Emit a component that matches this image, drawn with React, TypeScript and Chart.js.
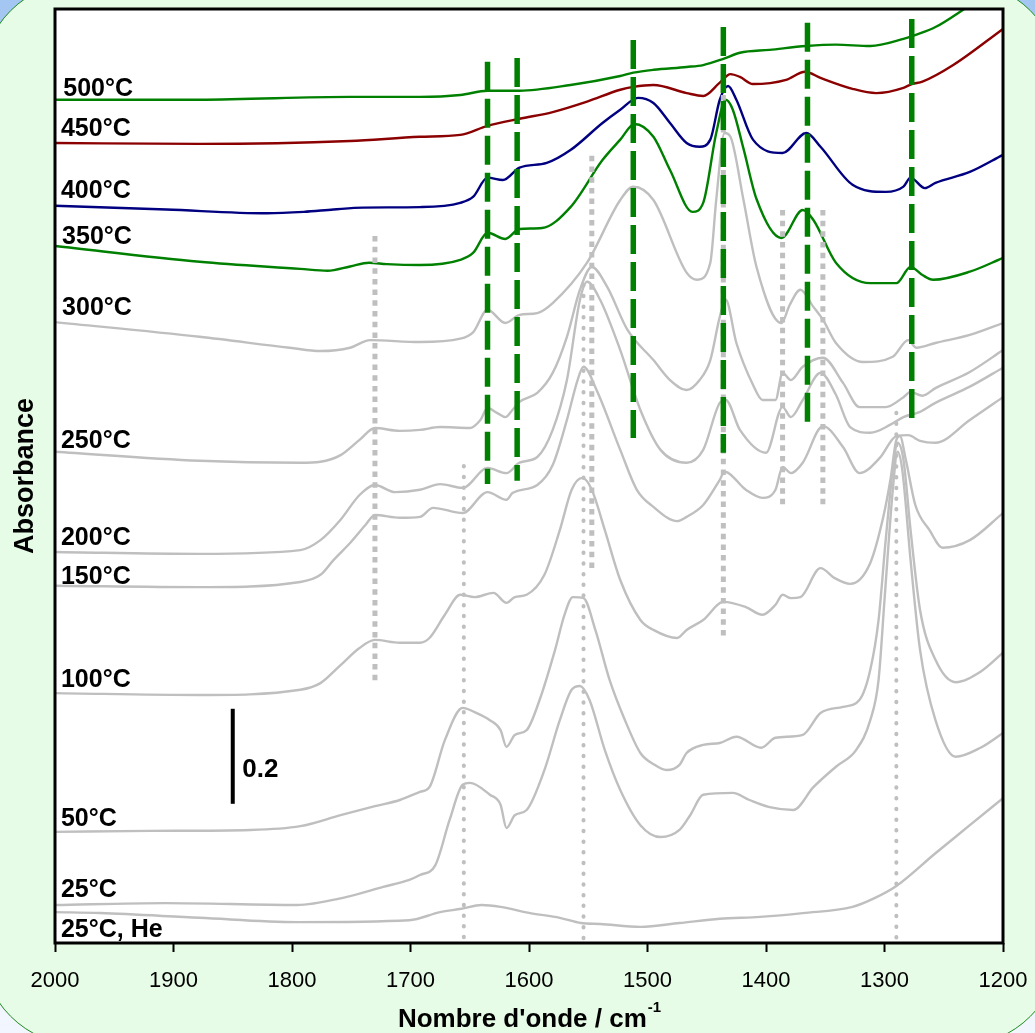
import React, { useEffect, useRef } from "react";
import { Chart, registerables } from "chart.js";

Chart.register(...registerables);

type Pt = [number, number];

// Spectra: [wavenumber (cm-1), absorbance (offset, a.u.)]
const c500: Pt[] = [
  [2000, 1.775], [1878, 1.775], [1751, 1.781], [1692, 1.781], [1658, 1.785], [1635, 1.794],
  [1608, 1.794], [1565, 1.806], [1523, 1.825], [1512, 1.832], [1495, 1.838], [1467, 1.844],
  [1453, 1.848], [1436, 1.861], [1422, 1.874], [1397, 1.88], [1366, 1.888], [1341, 1.891],
  [1312, 1.888], [1284, 1.903], [1273, 1.912], [1257, 1.928], [1234, 1.964], [1200, 2.023],
];
const c450: Pt[] = [
  [2000, 1.684], [1878, 1.682], [1751, 1.688], [1692, 1.697], [1658, 1.701], [1635, 1.72],
  [1608, 1.735], [1580, 1.749], [1551, 1.771], [1523, 1.796], [1512, 1.802], [1495, 1.806],
  [1467, 1.789], [1453, 1.783], [1439, 1.811], [1430, 1.829], [1422, 1.823], [1411, 1.808],
  [1383, 1.817], [1367, 1.834], [1354, 1.821], [1327, 1.798], [1307, 1.789], [1284, 1.8],
  [1277, 1.808], [1268, 1.813], [1242, 1.848], [1200, 1.924],
];
const c400: Pt[] = [
  [2000, 1.552], [1906, 1.544], [1821, 1.536], [1790, 1.539], [1765, 1.544], [1740, 1.548],
  [1692, 1.549], [1658, 1.558], [1647, 1.571], [1635, 1.611], [1622, 1.606], [1608, 1.632],
  [1585, 1.642], [1565, 1.669], [1538, 1.726], [1523, 1.754], [1508, 1.779], [1495, 1.768],
  [1481, 1.726], [1467, 1.684], [1456, 1.676], [1447, 1.691], [1439, 1.775], [1432, 1.804],
  [1425, 1.775], [1411, 1.691], [1386, 1.663], [1366, 1.705], [1354, 1.676], [1327, 1.596],
  [1299, 1.581], [1284, 1.592], [1278, 1.611], [1266, 1.589], [1257, 1.6], [1228, 1.623],
  [1200, 1.659],
];
const c350: Pt[] = [
  [2000, 1.467], [1878, 1.434], [1793, 1.419], [1770, 1.415], [1751, 1.424], [1735, 1.432],
  [1720, 1.429], [1692, 1.427], [1658, 1.438], [1647, 1.453], [1635, 1.495], [1620, 1.482],
  [1608, 1.503], [1589, 1.505], [1565, 1.549], [1538, 1.648], [1523, 1.691], [1511, 1.724],
  [1495, 1.697], [1481, 1.627], [1462, 1.539], [1453, 1.558], [1442, 1.705], [1434, 1.775],
  [1428, 1.754], [1419, 1.672], [1408, 1.566], [1387, 1.484], [1369, 1.543], [1360, 1.522],
  [1341, 1.432], [1312, 1.389], [1290, 1.389], [1278, 1.423], [1268, 1.406], [1259, 1.396],
  [1228, 1.413], [1200, 1.442],
];
const c300: Pt[] = [
  [2000, 1.307], [1878, 1.276], [1802, 1.253], [1776, 1.246], [1751, 1.253], [1734, 1.269],
  [1692, 1.265], [1658, 1.272], [1647, 1.286], [1635, 1.333], [1620, 1.305], [1608, 1.322],
  [1593, 1.326], [1580, 1.347], [1551, 1.432], [1523, 1.564], [1512, 1.592], [1495, 1.564],
  [1467, 1.411], [1458, 1.396], [1447, 1.432], [1442, 1.564], [1435, 1.705], [1430, 1.697],
  [1419, 1.564], [1408, 1.423], [1387, 1.305], [1380, 1.343], [1371, 1.375], [1360, 1.339],
  [1352, 1.312], [1341, 1.263], [1318, 1.223], [1293, 1.234], [1280, 1.269], [1273, 1.253],
  [1257, 1.263], [1228, 1.28], [1200, 1.305],
];
const c250: Pt[] = [
  [2000, 1.034], [1878, 1.015], [1793, 1.011], [1776, 1.013], [1759, 1.027], [1743, 1.059],
  [1730, 1.084], [1709, 1.078], [1692, 1.08], [1675, 1.086], [1650, 1.084], [1641, 1.101],
  [1635, 1.126], [1627, 1.116], [1620, 1.107], [1614, 1.122], [1608, 1.139], [1593, 1.158],
  [1580, 1.2], [1568, 1.276], [1557, 1.375], [1547, 1.423], [1534, 1.381], [1517, 1.291],
  [1495, 1.227], [1481, 1.185], [1467, 1.164], [1456, 1.185], [1447, 1.227], [1439, 1.318],
  [1434, 1.354], [1425, 1.263], [1411, 1.175], [1403, 1.143], [1392, 1.143], [1386, 1.2],
  [1379, 1.185], [1369, 1.213], [1352, 1.232], [1335, 1.179], [1321, 1.128], [1299, 1.128],
  [1284, 1.149], [1278, 1.16], [1268, 1.152], [1257, 1.168], [1228, 1.202], [1200, 1.248],
];
const c200: Pt[] = [
  [2000, 0.823], [1878, 0.819], [1793, 0.827], [1776, 0.848], [1759, 0.891], [1743, 0.943],
  [1730, 0.964], [1713, 0.949], [1692, 0.954], [1675, 0.966], [1656, 0.958], [1635, 1.0],
  [1619, 0.989], [1608, 1.011], [1593, 1.023], [1580, 1.08], [1568, 1.185], [1557, 1.354],
  [1551, 1.392], [1540, 1.354], [1523, 1.248], [1506, 1.122], [1489, 1.038], [1467, 1.011],
  [1453, 1.038], [1439, 1.137], [1434, 1.143], [1422, 1.08], [1400, 1.032], [1386, 1.128],
  [1379, 1.107], [1369, 1.143], [1354, 1.2], [1341, 1.154], [1329, 1.086], [1312, 1.074],
  [1295, 1.091], [1284, 1.107], [1270, 1.118], [1257, 1.137], [1228, 1.171], [1200, 1.211],
];
const c150: Pt[] = [
  [2000, 0.752], [1878, 0.749], [1793, 0.76], [1776, 0.775], [1765, 0.806], [1751, 0.842],
  [1738, 0.88], [1730, 0.901], [1709, 0.895], [1692, 0.897], [1681, 0.916], [1656, 0.905],
  [1635, 0.949], [1619, 0.933], [1614, 0.947], [1593, 0.964], [1580, 1.006], [1568, 1.101],
  [1559, 1.185], [1554, 1.213], [1543, 1.164], [1523, 1.038], [1509, 0.954], [1495, 0.918],
  [1475, 0.888], [1467, 0.897], [1453, 0.922], [1439, 0.975], [1435, 0.992], [1417, 0.954],
  [1403, 0.937], [1392, 0.954], [1386, 1.002], [1379, 0.989], [1369, 1.011], [1352, 1.088],
  [1335, 1.044], [1321, 0.989], [1304, 1.021], [1290, 1.067], [1280, 1.069], [1270, 1.057],
  [1257, 1.053], [1228, 1.101], [1200, 1.149],
];
const c100: Pt[] = [
  [2000, 0.526], [1878, 0.522], [1793, 0.533], [1776, 0.547], [1759, 0.585], [1743, 0.621],
  [1730, 0.638], [1709, 0.632], [1692, 0.632], [1684, 0.642], [1671, 0.691], [1658, 0.733],
  [1646, 0.728], [1630, 0.737], [1619, 0.716], [1612, 0.728], [1602, 0.733], [1587, 0.775],
  [1574, 0.869], [1564, 0.954], [1555, 0.979], [1547, 0.954], [1536, 0.869], [1523, 0.764],
  [1506, 0.68], [1495, 0.659], [1475, 0.642], [1467, 0.659], [1453, 0.68], [1436, 0.718],
  [1417, 0.707], [1403, 0.691], [1392, 0.712], [1386, 0.733], [1379, 0.726], [1371, 0.728],
  [1354, 0.789], [1342, 0.768], [1329, 0.756], [1312, 0.8], [1301, 0.897], [1295, 0.975],
  [1290, 1.059], [1287, 1.067], [1282, 1.017], [1274, 0.922], [1262, 0.869], [1251, 0.832],
  [1228, 0.848], [1200, 0.905],
];
const c50: Pt[] = [
  [2000, 0.234], [1920, 0.236], [1835, 0.238], [1793, 0.246], [1759, 0.269], [1730, 0.288],
  [1709, 0.301], [1692, 0.318], [1684, 0.328], [1671, 0.427], [1656, 0.495], [1646, 0.486],
  [1633, 0.469], [1624, 0.448], [1619, 0.413], [1612, 0.438], [1602, 0.448], [1591, 0.512],
  [1578, 0.617], [1570, 0.691], [1563, 0.728], [1554, 0.726], [1544, 0.659], [1532, 0.554],
  [1519, 0.469], [1506, 0.4], [1494, 0.375], [1484, 0.364], [1473, 0.375], [1467, 0.4],
  [1453, 0.417], [1439, 0.421], [1425, 0.434], [1404, 0.411], [1392, 0.432], [1369, 0.438],
  [1354, 0.484], [1335, 0.497], [1321, 0.512], [1312, 0.575], [1305, 0.68], [1299, 0.848],
  [1293, 0.996], [1289, 1.053], [1284, 1.017], [1278, 0.869], [1270, 0.701], [1257, 0.596],
  [1240, 0.549], [1219, 0.571], [1200, 0.611],
];
const c25: Pt[] = [
  [2000, 0.08], [1907, 0.084], [1796, 0.08], [1757, 0.095], [1723, 0.118], [1701, 0.133],
  [1692, 0.143], [1679, 0.164], [1667, 0.259], [1656, 0.333], [1650, 0.337], [1633, 0.312],
  [1624, 0.291], [1619, 0.242], [1612, 0.269], [1602, 0.28], [1587, 0.364], [1574, 0.469],
  [1564, 0.533], [1557, 0.541], [1549, 0.512], [1536, 0.406], [1523, 0.322], [1506, 0.248],
  [1489, 0.223], [1473, 0.238], [1464, 0.269], [1453, 0.312], [1428, 0.316], [1414, 0.301],
  [1397, 0.286], [1377, 0.28], [1360, 0.328], [1341, 0.371], [1324, 0.406], [1312, 0.469],
  [1305, 0.554], [1300, 0.722], [1293, 0.954], [1289, 1.034], [1285, 0.996], [1278, 0.806],
  [1270, 0.617], [1257, 0.469], [1240, 0.392], [1219, 0.411], [1200, 0.442],
];
const c25He: Pt[] = [
  [2000, 0.065], [1962, 0.063], [1878, 0.053], [1796, 0.044], [1701, 0.048], [1675, 0.065],
  [1657, 0.072], [1640, 0.08], [1624, 0.076], [1599, 0.063], [1574, 0.053], [1556, 0.042],
  [1540, 0.04], [1506, 0.034], [1473, 0.042], [1439, 0.051], [1405, 0.055], [1369, 0.063],
  [1327, 0.076], [1308, 0.095], [1290, 0.12], [1257, 0.189], [1228, 0.248], [1200, 0.305],
];

const seriesNames = ["500°C", "450°C", "400°C", "350°C", "300°C", "250°C", "200°C", "150°C", "100°C", "50°C", "25°C", "25°C, He"];
const seriesData: Pt[][] = [c500, c450, c400, c350, c300, c250, c200, c150, c100, c50, c25, c25He];
const seriesColors = ["#008000", "#8B0000", "#000080", "#008000", "#BFBFBF", "#BFBFBF", "#BFBFBF", "#BFBFBF", "#BFBFBF", "#BFBFBF", "#BFBFBF", "#BFBFBF"];
const labelWn = [1993, 1995, 1995, 1994, 1994, 1995, 1995, 1995, 1995, 1995, 1995, 1995];
const labelAbs = [1.783, 1.699, 1.568, 1.472, 1.322, 1.042, 0.838, 0.756, 0.539, 0.246, 0.097, 0.013];

// Band markers: wavenumber, top, bottom (absorbance)
const greenDashWn = [1635, 1610, 1512, 1436, 1365, 1277];
const greenDashTop = [1.855, 1.863, 1.901, 1.928, 1.937, 1.945];
const greenDashBottom = [0.966, 0.973, 1.063, 1.032, 1.097, 1.105];
const squareDotWn = [1730, 1547, 1436, 1386, 1352];
const squareDotTop = [1.488, 1.657, 1.785, 1.543, 1.543];
const squareDotBottom = [0.543, 0.779, 0.638, 0.914, 0.914];
const roundDotWn = [1655, 1554, 1290];
const roundDotTop = [1.004, 1.385, 1.116];
const roundDotBottom = [0, 0, 0];

// Scale bar (0.2 absorbance)
const scaleBarWn = 1850;
const scaleBarRange = [0.293, 0.493];
const scaleBarLabel = "0.2";
const scaleBarLabelPos: Pt = [1842, 0.349];

const xMin = 1200;
const xMax = 2000;
const xStep = 100;
const yMin = 0;
const yMax = 1.966;

const FONT = '"Liberation Sans", Arial, Helvetica, sans-serif';

export default function App() {
  const ref = useRef<HTMLCanvasElement | null>(null);

  useEffect(() => {
    const canvas = ref.current;
    if (!canvas) return;

    const curveSets = seriesData.map((pts, i) => ({
      label: seriesNames[i],
      data: pts.map(([x, y]) => ({ x, y })),
      borderColor: seriesColors[i],
      borderWidth: 2.4,
      pointRadius: 0,
      fill: false,
      cubicInterpolationMode: "monotone" as const,
      order: i < 4 ? 1 : 2,
      clip: 0,
    }));

    const vLine = (wn: number, a: number, b: number, color: string, width: number, dash: number[], cap: string, order: number) => ({
      label: "",
      data: [{ x: wn, y: a }, { x: wn, y: b }],
      borderColor: color,
      borderWidth: width,
      borderDash: dash,
      borderCapStyle: cap,
      pointRadius: 0,
      fill: false,
      tension: 0,
      order,
      clip: 4,
    });

    const markerSets = [
      ...squareDotWn.map((w, i) => vLine(w, squareDotTop[i], squareDotBottom[i], "#BFBFBF", 5, [5.5, 5.2], "butt", -1)),
      ...roundDotWn.map((w, i) => vLine(w, roundDotTop[i], roundDotBottom[i], "#BFBFBF", 4, [0.5, 10.2], "round", -1)),
      ...greenDashWn.map((w, i) => vLine(w, greenDashTop[i], greenDashBottom[i], "#008000", 5.5, [29, 8], "butt", -2)),
      vLine(scaleBarWn, scaleBarRange[0], scaleBarRange[1], "#000000", 4, [], "butt", -3),
    ];

    const bgPlugin = {
      id: "plotBg",
      beforeDraw(chart: any) {
        const { ctx, chartArea } = chart;
        ctx.save();
        ctx.fillStyle = "#FFFFFF";
        ctx.fillRect(chartArea.left, chartArea.top, chartArea.right - chartArea.left, chartArea.bottom - chartArea.top);
        ctx.restore();
      },
    };

    const framePlugin = {
      id: "frame",
      afterDatasetsDraw(chart: any) {
        const { ctx, chartArea } = chart;
        ctx.save();
        ctx.strokeStyle = "#000";
        ctx.lineWidth = 3;
        ctx.strokeRect(chartArea.left, chartArea.top, chartArea.right - chartArea.left, chartArea.bottom - chartArea.top);
        ctx.restore();
      },
    };

    const textPlugin = {
      id: "texts",
      afterDraw(chart: any) {
        const { ctx, chartArea } = chart;
        const xs = chart.scales.x;
        const ys = chart.scales.y;
        ctx.save();
        ctx.fillStyle = "#000";
        ctx.textAlign = "left";
        ctx.textBaseline = "alphabetic";
        ctx.font = `bold 25px ${FONT}`;
        seriesNames.forEach((t, i) => {
          ctx.fillText(t, xs.getPixelForValue(labelWn[i]), ys.getPixelForValue(labelAbs[i]));
        });
        ctx.font = `bold 26px ${FONT}`;
        ctx.fillText(scaleBarLabel, xs.getPixelForValue(scaleBarLabelPos[0]), ys.getPixelForValue(scaleBarLabelPos[1]));

        // x-axis title with superscript
        const main = "Nombre d'onde / cm";
        const sup = "-1";
        ctx.font = `bold 26px ${FONT}`;
        const w1 = ctx.measureText(main).width;
        ctx.font = `bold 15px ${FONT}`;
        const w2 = ctx.measureText(sup).width;
        const cx = (chartArea.left + chartArea.right) / 2;
        const start = cx - (w1 + w2) / 2;
        ctx.font = `bold 26px ${FONT}`;
        ctx.fillText(main, start, chart.height - 6);
        ctx.font = `bold 15px ${FONT}`;
        ctx.fillText(sup, start + w1 + 1, chart.height - 21);
        ctx.restore();
      },
    };

    const chart = new Chart(canvas, {
      type: "line",
      data: { datasets: [...curveSets, ...markerSets] as any },
      options: {
        responsive: false,
        animation: false,
        devicePixelRatio: 1,
        events: [],
        layout: { padding: { top: 9, right: 32, left: 0, bottom: 0 } },
        plugins: { legend: { display: false }, tooltip: { enabled: false } },
        scales: {
          x: {
            type: "linear",
            min: xMin,
            max: xMax,
            reverse: true,
            afterFit: (s: any) => {
              s.height = 90;
              s.paddingLeft = 0;
              s.paddingRight = 0;
            },
            border: { display: false },
            grid: {
              display: true,
              drawOnChartArea: false,
              drawTicks: true,
              tickLength: 9,
              tickWidth: 2,
              tickColor: "#000",
            },
            ticks: {
              stepSize: xStep,
              autoSkip: false,
              maxRotation: 0,
              padding: 16,
              color: "#000",
              font: { family: FONT, size: 22 },
              callback: (v: any) => String(v),
            },
          },
          y: {
            type: "linear",
            min: yMin,
            max: yMax,
            afterFit: (s: any) => {
              s.width = 55;
            },
            border: { display: false },
            grid: { display: false },
            ticks: { display: false },
            title: {
              display: true,
              text: "Absorbance",
              color: "#000",
              font: { family: FONT, size: 27, weight: "bold" },
              padding: { top: 9, bottom: 0 },
            },
          },
        },
      } as any,
      plugins: [bgPlugin, framePlugin, textPlugin],
    });

    return () => chart.destroy();
  }, []);

  return (
    <div
      style={{
        position: "fixed",
        left: 0,
        top: 0,
        width: 1035,
        height: 1033,
        overflow: "hidden",
        background: "linear-gradient(180deg, #A3C6F2 0%, #DCE8FB 55%, #F2F6FE 100%)",
      }}
    >
      <div
        style={{
          position: "absolute",
          left: -19,
          top: -19,
          width: 1079,
          height: 1065,
          borderRadius: 100,
          border: "1.5px solid #1F8A1F",
          background: "#E6FCE6",
          boxSizing: "border-box",
        }}
      />
      <canvas
        ref={ref}
        width={1035}
        height={1033}
        style={{ position: "absolute", left: 0, top: 0, width: 1035, height: 1033 }}
      />
    </div>
  );
}
